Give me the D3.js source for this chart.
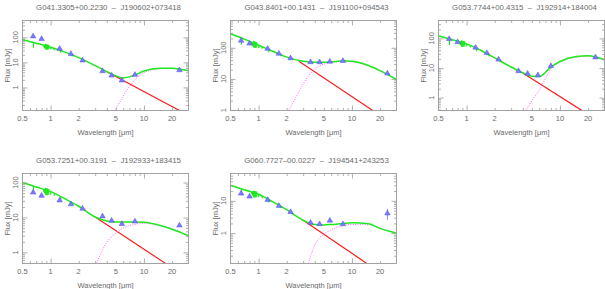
<!DOCTYPE html>
<html><head><meta charset="utf-8">
<script src="https://cdn.jsdelivr.net/npm/d3@7"></script>
<style>
body{margin:0;background:#fff;}
svg{display:block;}
text{font-family:"Liberation Sans",Arial,sans-serif;fill:#6a6a6a;white-space:pre;}
</style></head><body>
<svg id="c" width="605" height="289"></svg>
<script>
// ---------------- DATA ----------------
const titles = [
  "G041.3305+00.2230  \u2013  J190602+073418",
  "G043.8401+00.1431  \u2013  J191100+094543",
  "G053.7744+00.4315  \u2013  J192914+184004",
  "G053.7251+00.3191  \u2013  J192933+183415",
  "G060.7727\u201300.0227  \u2013  J194541+243253"
];
const xDomain = [0.5, 30];
const xTickLabels = [0.5, 1, 2, 5, 10, 20];
const yDomain1 = [0.12, 470], yDomain2 = [0.97, 750], yDomain3 = [0.37, 400], yDomain4 = [0.48, 182], yDomain5 = [0.115, 70];
const yTickLabels1 = [1, 10, 100], yTickLabels2 = [1, 10, 100], yTickLabels3 = [1, 10, 100], yTickLabels4 = [1, 10, 100], yTickLabels5 = [1, 10];

// photometry wavelengths (micron)
const obsWl = [0.65, 0.8, 1.25, 1.65, 2.2, 3.6, 4.5, 5.8, 8.0, 24];
const obs1 = [110, 86, 35, 22, 12, 4.5, 3.0, 1.9, 3.2, 4.9];
const obs2 = [170, 137, 93, 65, 46, 34.5, 34.5, 36, 38, 15];
const obs3 = [95, 75, 49, 32, 19.4, 7.9, 6.5, 5.7, 11.7, 23];
const obs4 = [52, 42, 31, 24, 18, 10.8, 8.1, 6.5, 7.7, 5.9];
const obs5 = [17, 13.6, 10.7, 7, 4.5, 2.1, 1.9, 2.45, 1.9, 4.1];
const err1 = [6, 5, 2, 1.2, 0.6, 0.25, 0.15, 0.12, 0.2, 0.4];
const err2 = [10, 8, 5, 3.5, 2.5, 1.8, 1.8, 2, 2, 1.2];
const err3 = [6, 4, 3, 2, 1, 0.4, 0.35, 0.3, 0.6, 1.5];
const err4 = [3, 2.5, 1.7, 1.3, 1, 0.6, 0.45, 0.35, 0.4, 0.5];
const err5 = [1, 0.8, 0.6, 0.4, 0.25, 0.12, 0.1, 0.15, 0.12, 1.5];

// total model (star + dust), sampled on modelWl
const modelWl = [0.5, 0.7, 1, 1.5, 2, 3, 4, 5, 6, 8, 10, 15, 20, 30];
const green1 = [80, 58, 40, 24, 15.5, 7.4, 4.3, 2.9, 2.4, 3.1, 4.5, 5.8, 5.9, 4.6];
const green2 = [283, 190, 121, 72, 50, 37, 34, 34, 35, 38, 37, 27, 18.5, 9.6];
const green3 = [122, 90, 65, 36, 22, 10.8, 6.9, 5.3, 5.2, 10.8, 16.6, 24.5, 26, 19];
const green4 = [100, 75, 55, 32, 21, 10.3, 7.9, 7.4, 7.4, 7.4, 7.3, 5.9, 4.6, 3.0];
const green5 = [30, 22, 16, 8.5, 5.3, 2.5, 1.85, 1.8, 1.85, 2.0, 2.1, 1.95, 1.4, 1.0];

// stellar photosphere (red), visible part [wavelength, flux]
const red1 = [[4, 4.2], [24, 0.12]];
const red2 = [[2.7, 36.9], [16.7, 0.97]];
const red3 = [[4, 6.8], [17.4, 0.36]];
const red4 = [[3, 10.3], [17.5, 0.46]];
const red5 = [[3, 2.5], [14.3, 0.118]];

// dust component (magenta dotted) [wavelength, flux]
const dust1 = [[4.9, 0.12], [6, 0.45], [7, 1.1], [8, 2.0], [10, 3.9], [15, 5.6], [20, 5.8], [30, 4.6]];
const dust2 = [[2.1, 0.97], [2.5, 2.5], [3, 6.9], [4, 21], [5, 30], [6, 34], [8, 36], [10, 35], [15, 26], [20, 18], [30, 9.4]];
const dust3 = [[4.35, 0.37], [5, 0.8], [6, 1.8], [7, 4.5], [8, 9.5], [10, 15.8], [15, 23], [20, 25], [30, 19]];
const dust4 = [[3.1, 0.48], [4, 1.95], [5, 3.6], [6, 5], [8, 6.3], [10, 6.8], [15, 5.9], [20, 4.8], [30, 3.0]];
const dust5 = [[3.4, 0.115], [4, 0.43], [5, 0.93], [6, 1.26], [8, 1.7], [10, 1.85], [15, 1.8], [20, 1.4], [30, 1.0]];

// stellar absorption features drawn on the model (wavelength, remaining fraction)
const lineWl = [0.656, 0.845, 0.86, 0.875, 0.886, 0.901, 0.923, 0.955, 1.005, 1.094, 1.282, 1.64, 1.74, 2.166];
const lineDepth = [0.62, 0.86, 0.8, 0.76, 0.72, 0.72, 0.74, 0.78, 0.82, 0.86, 0.82, 0.9, 0.9, 0.88];

// ---------------- LAYOUT ----------------
const W = 166, H = 90;
const colX = [22, 230, 438], rowY = [20, 173];
const panels = [
  {t: titles[0], c: 0, r: 0, yd: yDomain1, yl: yTickLabels1, g: green1, red: red1, dust: dust1, obs: obs1, err: err1},
  {t: titles[1], c: 1, r: 0, yd: yDomain2, yl: yTickLabels2, g: green2, red: red2, dust: dust2, obs: obs2, err: err2},
  {t: titles[2], c: 2, r: 0, yd: yDomain3, yl: yTickLabels3, g: green3, red: red3, dust: dust3, obs: obs3, err: err3},
  {t: titles[3], c: 0, r: 1, yd: yDomain4, yl: yTickLabels4, g: green4, red: red4, dust: dust4, obs: obs4, err: err4},
  {t: titles[4], c: 1, r: 1, yd: yDomain5, yl: yTickLabels5, g: green5, red: red5, dust: dust5, obs: obs5, err: err5}
];

const svg = d3.select("#c");
const AX = "#9a9a9a";

panels.forEach((p, i) => {
  const x0 = colX[p.c], y0 = rowY[p.r];
  const x = d3.scaleLog().domain(xDomain).range([0, W]);
  const y = d3.scaleLog().domain(p.yd).range([H, 0]);
  const g = svg.append("g").attr("transform", `translate(${x0 + 0.5},${y0 + 0.5})`);

  g.append("clipPath").attr("id", "clip" + i)
    .append("rect").attr("width", W).attr("height", H);
  const pl = g.append("g").attr("clip-path", `url(#clip${i})`);

  const line = d3.line().x(d => x(d[0])).y(d => y(d[1])).curve(d3.curveMonotoneX);
  const gPts = modelWl.map((w, k) => [w, p.g[k]]);

  const gAt = w => {
    let k = 0;
    while (k < modelWl.length - 2 && modelWl[k + 1] < w) k++;
    const a = gPts[k], b = gPts[k + 1];
    const f = (Math.log(w) - Math.log(a[0])) / (Math.log(b[0]) - Math.log(a[0]));
    return Math.exp(Math.log(a[1]) + f * (Math.log(b[1]) - Math.log(a[1])));
  };

  pl.append("path").datum(p.red).attr("d", d3.line().x(d => x(d[0])).y(d => y(d[1])))
    .attr("fill", "none").attr("stroke", "#ff1a1a").attr("stroke-width", 1.2);
  pl.append("path").datum(p.dust).attr("d", line)
    .attr("fill", "none").attr("stroke", "#ff66ff").attr("stroke-width", 1)
    .attr("stroke-dasharray", "1,1.4");
  pl.append("path").datum(gPts).attr("d", line)
    .attr("fill", "none").attr("stroke", "#1ee81e").attr("stroke-width", 1.5);
  pl.selectAll("line.sp").data(lineWl.map((w, k) => [w, lineDepth[k]])).enter()
    .append("line")
    .attr("x1", d => x(d[0])).attr("x2", d => x(d[0]))
    .attr("y1", d => y(gAt(d[0]))).attr("y2", d => y(gAt(d[0]) * d[1]))
    .attr("stroke", "#1ee81e").attr("stroke-width", 1.2);
  pl.append("path").datum([[0.86, gAt(0.86)], [0.9, gAt(0.9)], [0.96, gAt(0.96)]])
    .attr("d", d3.line().x(d => x(d[0])).y(d => y(d[1])))
    .attr("fill", "none").attr("stroke", "#1ee81e").attr("stroke-width", 4);

  const obs = obsWl.map((w, k) => [w, p.obs[k], p.err[k]]);
  pl.selectAll("line.eb").data(obs).enter().append("line")
    .attr("x1", d => x(d[0])).attr("x2", d => x(d[0]))
    .attr("y1", d => y(d[1] + d[2])).attr("y2", d => y(Math.max(d[1] - d[2], 1e-3)))
    .attr("stroke", "#6a6aff").attr("stroke-width", 0.8);
  pl.selectAll("path.tri").data(obs).enter().append("path")
    .attr("d", d3.symbol(d3.symbolTriangle, 13))
    .attr("transform", d => `translate(${x(d[0])},${y(d[1])})`)
    .attr("fill", "#7b7bff").attr("stroke", "#5050e0").attr("stroke-width", 0.5);

  const xt = x.ticks().filter(v => v > xDomain[0] * 1.001 && v < xDomain[1] * 0.999);
  const xMaj = xt.filter(v => Math.abs(Math.log10(v) - Math.round(Math.log10(v))) < 1e-6);
  const xMin = xt.filter(v => !xMaj.includes(v));
  const yt = y.ticks().filter(v => v > p.yd[0] * 1.001 && v < p.yd[1] * 0.999);
  const yMaj = yt.filter(v => Math.abs(Math.log10(v) - Math.round(Math.log10(v))) < 1e-6);
  const yMin = yt.filter(v => !yMaj.includes(v));

  const mk = (axis, vals, len, tr) => {
    const a = g.append("g").attr("transform", tr)
      .call(axis.tickValues(vals).tickSizeInner(-len).tickSizeOuter(0).tickFormat(""));
    a.select(".domain").remove();
    a.selectAll("line").attr("stroke", AX).attr("stroke-width", 0.8);
  };
  mk(d3.axisBottom(x), xMaj, 5, `translate(0,${H})`);
  mk(d3.axisBottom(x), xMin, 2.5, `translate(0,${H})`);
  mk(d3.axisTop(x), xMaj, 5, `translate(0,0)`);
  mk(d3.axisTop(x), xMin, 2.5, `translate(0,0)`);
  mk(d3.axisLeft(y), yMaj, 5, `translate(0,0)`);
  mk(d3.axisLeft(y), yMin, 2.5, `translate(0,0)`);
  mk(d3.axisRight(y), yMaj, 5, `translate(${W},0)`);
  mk(d3.axisRight(y), yMin, 2.5, `translate(${W},0)`);

  g.append("rect").attr("width", W).attr("height", H)
    .attr("fill", "none").attr("stroke", AX).attr("stroke-width", 0.9);

  g.selectAll("text.xl").data(xTickLabels).enter().append("text")
    .attr("x", d => x(d)).attr("y", H + 10.5)
    .attr("text-anchor", "middle").attr("font-size", 7.5).text(d => d);
  g.selectAll("text.yl").data(p.yl).enter().append("text")
    .attr("transform", d => `translate(-5,${y(d)}) rotate(-90)`)
    .attr("text-anchor", "middle").attr("font-size", 7.5).text(d => d);

  g.append("text").attr("x", W / 2).attr("y", H + 24)
    .attr("text-anchor", "middle").attr("font-size", 7.5).text("Wavelength [\u03bcm]");
  g.append("text").attr("transform", `translate(-13,${H / 2}) rotate(-90)`)
    .attr("text-anchor", "middle").attr("font-size", 7.5).text("Flux [mJy]");
  g.append("text").attr("x", W / 2 + 3).attr("y", -11)
    .attr("text-anchor", "middle").attr("font-size", 7.8).text(p.t);
});
</script>
</body></html>
